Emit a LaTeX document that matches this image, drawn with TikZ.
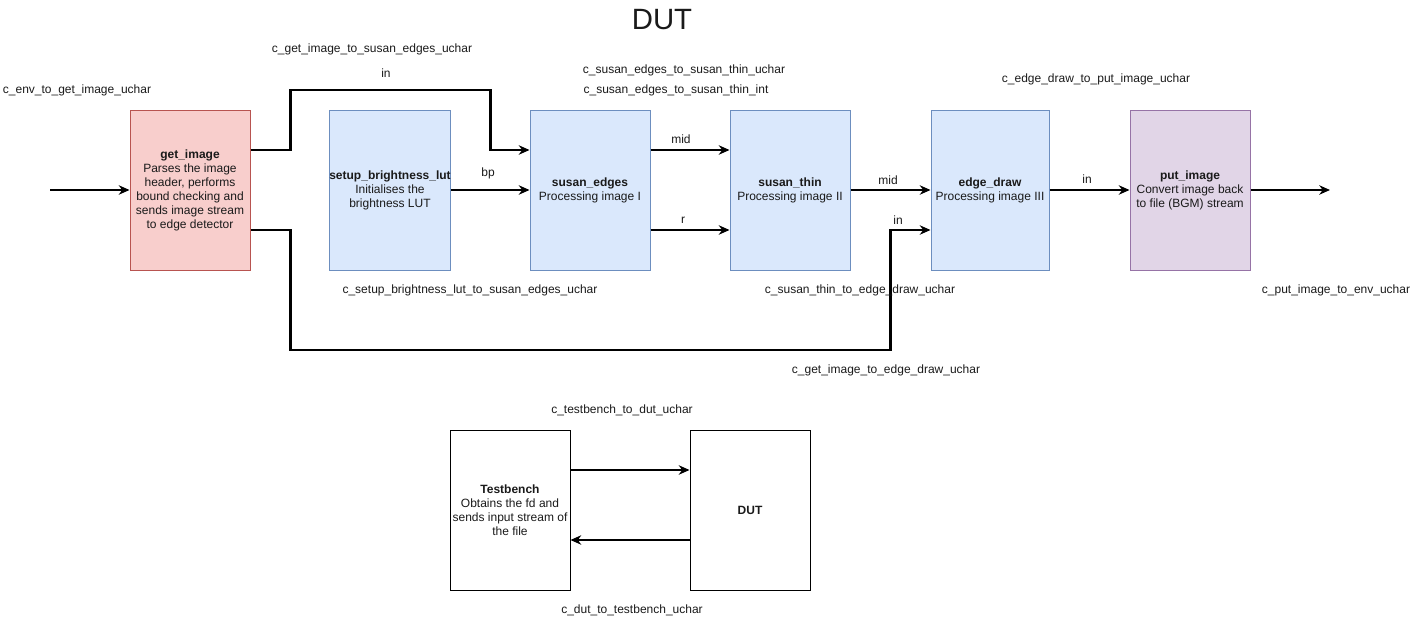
\documentclass[tikz,border=0pt]{standalone}
\usepackage{fontspec}
\setmainfont{Liberation Sans}
\usetikzlibrary{arrows.meta}
\definecolor{redfill}{HTML}{F8CECC}
\definecolor{redline}{HTML}{B85450}
\definecolor{bluefill}{HTML}{DAE8FC}
\definecolor{blueline}{HTML}{6C8EBF}
\definecolor{purplefill}{HTML}{E1D5E7}
\definecolor{purpleline}{HTML}{9673A6}
\definecolor{txt}{HTML}{1A1A1A}
\begin{document}
\begin{tikzpicture}[x=0.75pt, y=-0.75pt,
    block/.style={draw, line width=0.75pt, minimum width=90pt, minimum height=120pt,
      align=center, font=\fontsize{9}{10.5}\selectfont, text=txt, inner sep=0pt},
    wire/.style={line width=1.6pt, -{Stealth[length=8pt, width=7pt, inset=2.5pt]}},
    chan/.style={font=\fontsize{9}{10.5}\selectfont, text=txt, inner sep=1pt}]
    \useasboundingbox (0, 0) rectangle (1421, 621);
    \node[font=\fontsize{22}{26}\selectfont, text=txt] (title) at (662, 20) {DUT};

    % pipeline blocks
    \node[block, fill=redfill, draw=redline] (get) at (190, 190)
      {\textbf{get\_image}\\Parses the image\\header, performs\\bound checking and\\sends image stream\\to edge detector};
    \node[block, fill=bluefill, draw=blueline] (lut) at (390, 190)
      {\textbf{setup\_brightness\_lut}\\Initialises the\\brightness LUT};
    \node[block, fill=bluefill, draw=blueline] (edges) at (590, 190)
      {\textbf{susan\_edges}\\Processing image I};
    \node[block, fill=bluefill, draw=blueline] (thin) at (790, 190)
      {\textbf{susan\_thin}\\Processing image II};
    \node[block, fill=bluefill, draw=blueline, minimum width=88.5pt] (edraw) at (990, 190)
      {\textbf{edge\_draw}\\Processing image III};
    \node[block, fill=purplefill, draw=purpleline] (put) at (1190, 190)
      {\textbf{put\_image}\\Convert image back\\to file (BGM) stream};

    \coordinate (envin) at (50, 190);
    \coordinate (envout) at (1330, 190);

    % connectors
    \draw[wire] (envin) -- (get.west);
    \draw[wire] ([yshift=30pt]get.east) -- ++(40, 0) -- ++(0, -60) -- ++(200, 0)
      -- ++(0, 60) -- ([yshift=30pt]edges.west);
    \draw[wire] (lut.east) -- (edges.west);
    \draw[wire] ([yshift=30pt]edges.east) -- ([yshift=30pt]thin.west);
    \draw[wire] ([yshift=-30pt]edges.east) -- ([yshift=-30pt]thin.west);
    \draw[wire] (thin.east) -- (edraw.west);
    \draw[wire] ([yshift=-30pt]get.east) -- ++(40, 0) -- ++(0, 120) -- ++(600, 0)
      -- ++(0, -120) -- ([yshift=-30pt]edraw.west);
    \draw[wire] (edraw.east) -- (put.west);
    \draw[wire] (put.east) -- (envout);

    % port names
    \node[chan] (pin1) at (386, 73) {in};
    \node[chan] (pbp) at (488, 173) {bp};
    \node[chan] (pmid1) at (681, 139) {mid};
    \node[chan] (pr) at (683, 220) {r};
    \node[chan] (pmid2) at (888, 180) {mid};
    \node[chan] (pin2) at (898, 220) {in};
    \node[chan] (pin3) at (1087, 179) {in};

    % channel names
    \node[chan] (cenv) at (77, 90) {c\_env\_to\_get\_image\_uchar};
    \node[chan] (cgs) at (372, 49) {c\_get\_image\_to\_susan\_edges\_uchar};
    \node[chan] (cst1) at (684, 70) {c\_susan\_edges\_to\_susan\_thin\_uchar};
    \node[chan] (cst2) at (676, 90) {c\_susan\_edges\_to\_susan\_thin\_int};
    \node[chan] (cep) at (1096, 79) {c\_edge\_draw\_to\_put\_image\_uchar};
    \node[chan] (cls) at (470, 290) {c\_setup\_brightness\_lut\_to\_susan\_edges\_uchar};
    \node[chan] (cte) at (860, 290) {c\_susan\_thin\_to\_edge\_draw\_uchar};
    \node[chan] (cpe) at (1336, 290) {c\_put\_image\_to\_env\_uchar};
    \node[chan] (cge) at (886, 370) {c\_get\_image\_to\_edge\_draw\_uchar};

    % testbench
    \node[block] (tb) at (510, 510)
      {\textbf{Testbench}\\Obtains the fd and\\sends input stream of\\the file};
    \node[block] (dut) at (750, 510) {\textbf{DUT}};
    \draw[wire] ([yshift=30pt]tb.east) -- ([yshift=30pt]dut.west);
    \draw[wire] ([yshift=-22.5pt]dut.west) -- ([yshift=-22.5pt]tb.east);
    \node[chan] (ctd) at (622, 410) {c\_testbench\_to\_dut\_uchar};
    \node[chan] (cdt) at (632, 610) {c\_dut\_to\_testbench\_uchar};
  \end{tikzpicture}
\end{document}
